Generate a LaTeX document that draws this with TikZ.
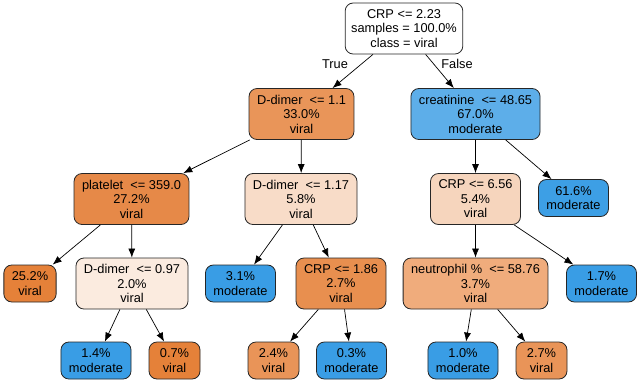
\documentclass[tikz,border=0pt]{standalone}
\usepackage{fontspec}
\setmainfont{Liberation Sans}
\usepackage{tikz}
\usetikzlibrary{arrows.meta}
\usepackage{xcolor}

\definecolor{vir1}{RGB}{229,129,57}
\definecolor{vir2}{RGB}{233,148,88}
\definecolor{virA}{RGB}{233,149,89}
\definecolor{virB}{RGB}{230,137,72}
\definecolor{virC}{RGB}{232,143,79}
\definecolor{virD}{RGB}{240,172,124}
\definecolor{virE}{RGB}{246,213,189}
\definecolor{virF}{RGB}{248,220,200}
\definecolor{virG}{RGB}{251,235,223}
\definecolor{mod1}{RGB}{57,157,229}
\definecolor{mod2}{RGB}{61,159,229}
\definecolor{modA}{RGB}{93,174,233}

\begin{document}
\begin{tikzpicture}[x=1pt,y=-1pt,
    box/.style={draw=black!85,line width=0.8pt,rounded corners=8pt,align=center,
      inner xsep=8pt,inner ysep=0pt,minimum width=51pt,minimum height=37pt,
      font=\fontsize{12.8}{14.5}\selectfont},
    tall/.style={box,minimum height=51pt},
    edgearr/.style={-{Latex[length=9pt,width=7pt]},line width=0.7pt}]
        \useasboundingbox (0,0) rectangle (640,384);
        % root and first split
        \node[tall,fill=white,inner xsep=6pt] (root) at (404,28.5) {CRP <= 2.23\\samples = 100.0\%\\class = viral};
        \node[tall,fill=virA] (dA) at (301.5,114) {D-dimer\ \ <= 1.1\\33.0\%\\viral};
        \node[tall,fill=modA] (cA) at (475.5,114) {creatinine\ \ <= 48.65\\67.0\%\\moderate};
        % second level
        \node[tall,fill=virB] (pB) at (131.5,199) {platelet\ \ <= 359.0\\27.2\%\\viral};
        \node[tall,fill=virF] (dB) at (301,199) {D-dimer\ \ <= 1.17\\5.8\%\\viral};
        \node[tall,fill=virE] (cB) at (475.5,199) {CRP <= 6.56\\5.4\%\\viral};
        \node[box,fill=mod2] (mB) at (573.5,198) {61.6\%\\moderate};
        % third level
        \node[box,fill=vir1] (vC) at (30,283.5) {25.2\%\\viral};
        \node[tall,fill=virG] (dC) at (132,283.5) {D-dimer\ \ <= 0.97\\2.0\%\\viral};
        \node[box,fill=mod1] (mC) at (240.5,283.5) {3.1\%\\moderate};
        \node[tall,fill=virC] (cC) at (341,283.5) {CRP <= 1.86\\2.7\%\\viral};
        \node[tall,fill=virD] (nC) at (475.5,283.5) {neutrophil \%\ \ <= 58.76\\3.7\%\\viral};
        \node[box,fill=mod1] (qC) at (601.5,283.5) {1.7\%\\moderate};
        % leaves
        \node[box,fill=mod1] (mD1) at (96,360.5) {1.4\%\\moderate};
        \node[box,fill=vir1] (vD1) at (174.5,360.5) {0.7\%\\viral};
        \node[box,fill=vir2] (vD2) at (273.5,360.5) {2.4\%\\viral};
        \node[box,fill=mod1] (mD2) at (351.5,360.5) {0.3\%\\moderate};
        \node[box,fill=mod1] (mD3) at (463,360.5) {1.0\%\\moderate};
        \node[box,fill=vir2] (vD3) at (541.5,360.5) {2.7\%\\viral};
        \node[font=\fontsize{12.8}{14.5}\selectfont] (truelbl) at (335,64) {True};
        \node[font=\fontsize{12.8}{14.5}\selectfont] (falselbl) at (457,64) {False};
        \foreach \a/\b in {root/dA,root/cA,dA/pB,dA/dB,cA/cB,cA/mB,pB/vC,pB/dC,dB/mC,dB/cC,
                           cB/nC,cB/qC,dC/mD1,dC/vD1,cC/vD2,cC/mD2,nC/mD3,nC/vD3} {
          \draw[edgearr] (\a) -- (\b);
        }
      \end{tikzpicture}
\end{document}
